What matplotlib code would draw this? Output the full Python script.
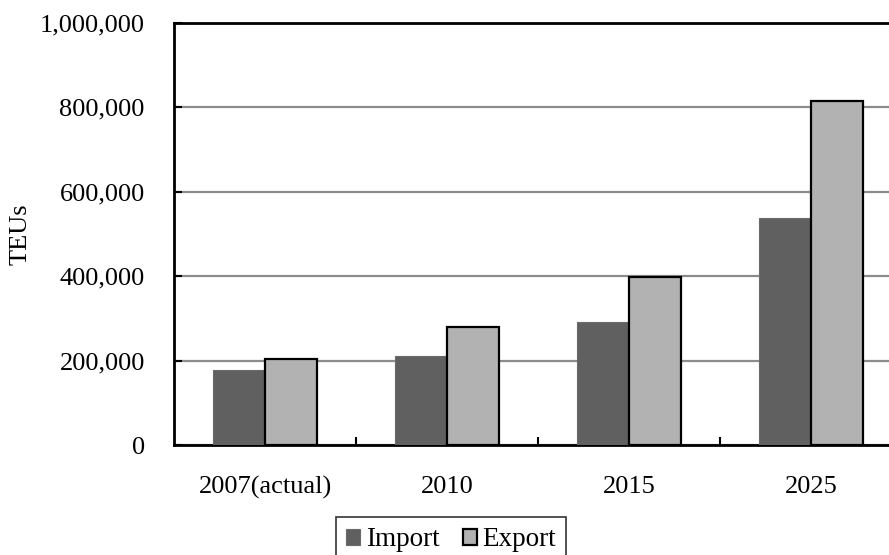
import matplotlib
matplotlib.use("Agg")
import matplotlib.pyplot as plt
import numpy as np
from matplotlib.ticker import FuncFormatter

categories = ["2007(actual)", "2010", "2015", "2025"]
import_teu = [178000, 210000, 291000, 537000]
export_teu = [204000, 280000, 398000, 815000]
series_names = ["Import", "Export"]
y_ticks = [0, 200000, 400000, 600000, 800000, 1000000]

plt.rcParams["font.family"] = ["Liberation Serif", "DejaVu Serif"]

fig = plt.figure(figsize=(8.89, 5.55), dpi=100)
ax = fig.add_axes([174 / 889, 110 / 555, 728 / 889, 422 / 555])

x = np.arange(len(categories))
w = 0.286
ax.bar(x - w / 2, import_teu, width=w, color="#606060", edgecolor="#6a6a6a",
       linewidth=0.8, label=series_names[0], zorder=3)
ax.bar(x + w / 2, export_teu, width=w, color="#b2b2b2", edgecolor="black",
       linewidth=1.6, label=series_names[1], zorder=3)

ax.set_xlim(-0.5, len(categories) - 0.5)
ax.set_ylim(0, 1000000)
ax.set_yticks(y_ticks)
ax.yaxis.set_major_formatter(FuncFormatter(lambda v, p: f"{int(v):,}"))
ax.set_xticks(x)
ax.set_xticklabels(categories)
ax.set_xticks(np.arange(len(categories) - 1) + 0.5, minor=True)

ax.grid(axis="y", color="#8c8c8c", linewidth=1.6, zorder=1)
ax.set_axisbelow(True)

ax.tick_params(axis="y", direction="in", length=6, width=1.5, pad=21,
               labelsize=19, colors="black")
ax.tick_params(axis="x", which="major", length=0, pad=22, labelsize=19)
ax.tick_params(axis="x", which="minor", direction="in", length=6, width=1.5)

for side in ["left", "top", "bottom", "right"]:
    ax.spines[side].set_linewidth(2)
    ax.spines[side].set_color("black")

ax.set_ylabel("TEUs", fontsize=19, labelpad=6)

leg = fig.legend(loc="upper center", bbox_to_anchor=(451 / 889, 1 - 517 / 555),
                 ncol=2, fontsize=19.5, frameon=True, fancybox=False,
                 handlelength=0.52, handleheight=0.52, handletextpad=0.2,
                 columnspacing=0.85, borderpad=0.38, borderaxespad=0)
leg.get_frame().set_edgecolor("black")
leg.get_frame().set_linewidth(1.2)

fig.savefig("out.png", dpi=100)
